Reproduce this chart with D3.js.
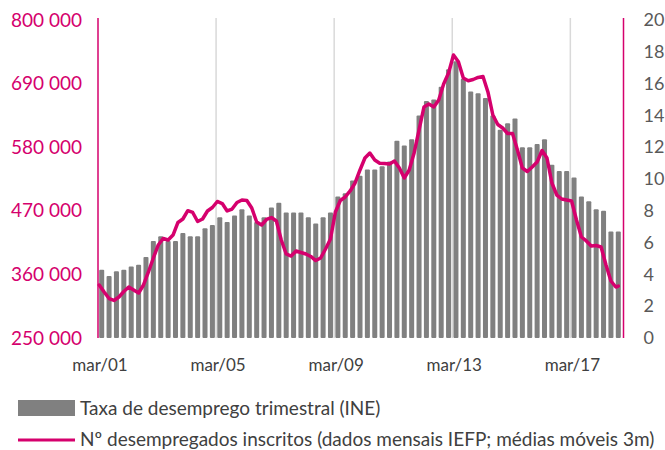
<!DOCTYPE html>
<html>
<head>
<meta charset="utf-8">
<script src="https://cdn.jsdelivr.net/npm/d3@7"></script>
<style>
  body { margin: 0; background: #fff; }
  text { font-family: Lato, "Open Sans", sans-serif; }
</style>
</head>
<body>
<script>
var width = 665,
    height = 450;

var pink = "#d5006d",
    barGrey = "#808080";

// quarterly unemployment rate (INE), 2001Q1 .. 2018Q3, right axis (%)
var quarters = [];
for (var yr = 2001; yr <= 2018; yr++) {
  for (var q = 1; q <= 4; q++) {
    if (yr == 2018 && q > 3) break;
    quarters.push(yr + "Q" + q);
  }
}
var rateValues = [
  4.3, 3.9, 4.2, 4.3, 4.5, 4.6, 5.1, 6.1, 6.4, 6.1,
  6.1, 6.6, 6.4, 6.4, 6.9, 7.1, 7.6, 7.3, 7.7, 8.1,
  7.7, 7.3, 7.6, 8.2, 8.5, 7.9, 7.9, 7.9, 7.6, 7.2,
  7.6, 7.9, 8.9, 9.1, 9.9, 10.2, 10.6, 10.6, 10.8, 11.1,
  12.4, 12.1, 12.5, 14.0, 14.9, 15.0, 15.8, 16.9, 17.4, 16.3,
  15.5, 15.4, 15.1, 14.0, 13.1, 13.5, 13.8, 12.0, 12.0, 12.2,
  12.5, 10.9, 10.5, 10.5, 10.1, 8.9, 8.6, 8.1, 8.0, 6.7,
  6.7
];

// registered unemployed (IEFP, 3m moving avg), month index from Jan 2001, left axis
var lineMonths = [];
for (var m = 0; m <= 210; m += 2) lineMonths.push(m);
lineMonths.push(211);
var lineValues = [
  341700, 329600, 318300, 314900, 320900, 330400, 338200, 333000, 327800, 341700,
  364200, 388400, 410900, 422100, 419500, 428100, 449800, 455800, 470200, 467100,
  451500, 455800, 469700, 475700, 486100, 482600, 469700, 473100, 484400, 488700,
  487800, 474800, 450600, 445400, 455000, 458400, 452400, 419500, 395300, 391800,
  400500, 397900, 395300, 391000, 384000, 388400, 403900, 421200, 467900, 487800,
  493900, 504300, 518100, 540600, 561300, 570000, 557900, 552200, 551800, 551000,
  556100, 544000, 526700, 540600, 570000, 609800, 649500, 654700, 649500, 661600,
  689300, 708300, 739500, 727900, 699700, 695000, 697100, 700600, 702300, 675500,
  635700, 619300, 613200, 603700, 603700, 575200, 544000, 538000, 545800, 554400,
  574300, 561300, 518100, 497300, 490400, 488700, 487000, 454100, 424700, 417800,
  409100, 410000, 407400, 376300, 348600, 338200, 339900
];

var leftTicks = [250000, 360000, 470000, 580000, 690000, 800000];
var rightTicks = [0, 2, 4, 6, 8, 10, 12, 14, 16, 18, 20];
var xLabelQuarters = ["2001Q1", "2005Q1", "2009Q1", "2013Q1", "2017Q1"];
var xLabels = ["mar/01", "mar/05", "mar/09", "mar/13", "mar/17"];
var legendLabels = ["Taxa de desemprego trimestral (INE)",
                    "N\u00ba desempregados inscritos (dados mensais IEFP; m\u00e9dias m\u00f3veis 3m)"];

var plot = {left: 98, right: 622, top: 20, bottom: 338};

var x = d3.scaleBand()
    .domain(quarters)
    .range([plot.left, plot.right])
    .paddingInner(0.32)
    .paddingOuter(0.16);

var xm = d3.scaleLinear()
    .domain([0, quarters.length * 3])
    .range([plot.left, plot.right]);

var yLeft = d3.scaleLinear().domain([250000, 800000]).range([plot.bottom, plot.top]);
var yRight = d3.scaleLinear().domain([0, 20]).range([plot.bottom, plot.top]);

var fmt = d3.formatLocale({decimal: ",", thousands: " ", grouping: [3], currency: ["", "€"]}).format(",");

var svg = d3.select("body").append("svg")
    .attr("width", width)
    .attr("height", height);

// vertical gridlines every 4 years
function qStart(q) { return x(q) - x.step() * x.paddingOuter(); }

svg.append("g")
  .selectAll("line")
  .data(xLabelQuarters.slice(1))
  .enter().append("line")
    .attr("x1", qStart).attr("x2", qStart)
    .attr("y1", plot.top - 2).attr("y2", plot.bottom)
    .attr("stroke", "#d9d9d9")
    .attr("stroke-width", 1.5);

// bars
svg.append("g")
  .selectAll("rect")
  .data(rateValues)
  .enter().append("rect")
    .attr("x", function(d, i) { return x(quarters[i]); })
    .attr("width", x.bandwidth())
    .attr("y", function(d) { return yRight(d); })
    .attr("height", function(d) { return plot.bottom - yRight(d); })
    .attr("rx", 1)
    .attr("fill", barGrey);

// line
var line = d3.line()
    .x(function(d, i) { return xm(lineMonths[i] + 0.5); })
    .y(function(d) { return yLeft(d); });

svg.append("path")
    .datum(lineValues)
    .attr("d", line)
    .attr("fill", "none")
    .attr("stroke", pink)
    .attr("stroke-width", 3.5)
    .attr("stroke-linejoin", "round")
    .attr("stroke-linecap", "round");

// left axis
var gl = svg.append("g")
    .attr("transform", "translate(" + plot.left + ",0)")
    .call(d3.axisLeft(yLeft).tickValues(leftTicks).tickSize(0).tickPadding(16).tickFormat(fmt));
gl.select(".domain").attr("stroke", pink).attr("stroke-width", 1.5).attr("d", "M0," + (plot.top - 2) + "V" + plot.bottom);
gl.selectAll("text").attr("fill", pink).style("font-size", "19px").style("font-family", "Lato, sans-serif");

// right axis
var gr = svg.append("g")
    .attr("transform", "translate(" + (plot.right + 1.5) + ",0)")
    .call(d3.axisRight(yRight).tickValues(rightTicks).tickSize(0).tickPadding(20));
gr.select(".domain").attr("stroke", pink).attr("stroke-width", 1.5).attr("d", "M0," + (plot.top - 2) + "V" + plot.bottom);
gr.selectAll("text").attr("fill", "#595959").style("font-size", "18px").style("font-family", "Lato, sans-serif");

// x labels
svg.append("g")
  .selectAll("text")
  .data(xLabelQuarters)
  .enter().append("text")
    .attr("x", function(d) { return qStart(d) + 2; })
    .attr("y", 371)
    .attr("text-anchor", "middle")
    .attr("fill", "#404040")
    .style("font-size", "17px")
    .text(function(d, i) { return xLabels[i]; });

// legend
var lg = svg.append("g");
lg.append("rect")
    .attr("x", 18).attr("y", 400).attr("width", 57).attr("height", 16)
    .attr("fill", barGrey);
lg.append("line")
    .attr("x1", 18).attr("x2", 75).attr("y1", 440).attr("y2", 440)
    .attr("stroke", pink).attr("stroke-width", 3);
lg.selectAll("text")
  .data(legendLabels)
  .enter().append("text")
    .attr("x", 80)
    .attr("y", function(d, i) { return 415 + i * 31; })
    .attr("fill", "#404040")
    .style("font-size", "19px")
    .text(function(d) { return d; });
</script>
</body>
</html>
